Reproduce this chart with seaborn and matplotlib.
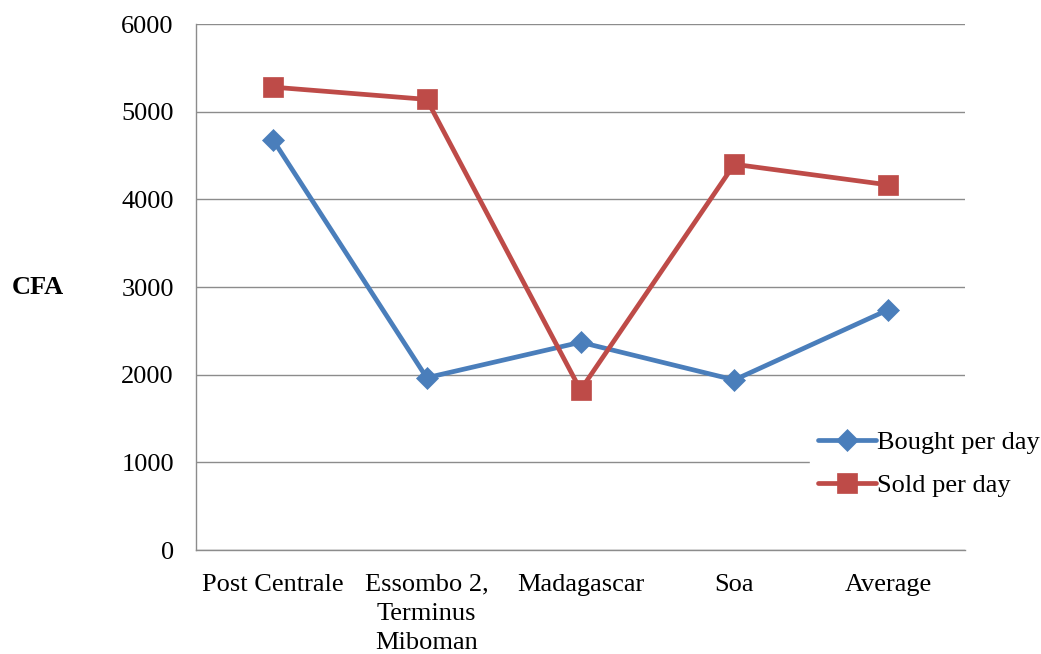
import matplotlib
matplotlib.use("Agg")
import matplotlib.pyplot as plt
import seaborn as sns
import pandas as pd
import numpy as np

# Daily trade values per market (CFA)
markets = ["Post Centrale", "Essombo 2,\nTerminus\nMiboman", "Madagascar", "Soa", "Average"]
bought_per_day = [4680, 1965, 2370, 1940, 2740]
sold_per_day = [5280, 5140, 1825, 4400, 4165]
series_names = ["Bought per day", "Sold per day"]
y_ticks = [0, 1000, 2000, 3000, 4000, 5000, 6000]

df = pd.DataFrame({
    "market": markets * 2,
    "value": bought_per_day + sold_per_day,
    "series": [series_names[0]] * len(markets) + [series_names[1]] * len(markets),
})

sns.set_style("white")
plt.rcParams["font.family"] = ["Liberation Serif", "DejaVu Serif"]
plt.rcParams["text.color"] = "black"
plt.rcParams["xtick.labelcolor"] = "black"
plt.rcParams["ytick.labelcolor"] = "black"

fig = plt.figure(figsize=(10.41, 6.54), dpi=100)
ax = fig.add_axes([0.1883, 0.159, 0.7387, 0.8043])

palette = {series_names[0]: "#4A7EBB", series_names[1]: "#BE4B48"}
markers = {series_names[0]: "D", series_names[1]: "s"}
sizes = {series_names[0]: 11, series_names[1]: 14}

for name in series_names:
    sub = df[df["series"] == name]
    sns.lineplot(data=sub, x="market", y="value", ax=ax, color=palette[name],
                 marker=markers[name], markersize=sizes[name], linewidth=3.4,
                 markeredgecolor=palette[name], markeredgewidth=0.5,
                 label=name, sort=False, legend=False)

ax.set_ylim(0, 6000)
ax.set_xlim(-0.5, len(markets) - 0.5)
ax.set_yticks(y_ticks)
ax.set_yticklabels([str(t) for t in y_ticks], fontsize=19, color="black")
ax.yaxis.grid(True, color="#8C8C8C", linewidth=1.0)
ax.set_axisbelow(True)

ax.set_xticks(range(len(markets)))
ax.set_xticklabels(markets, fontsize=19, linespacing=1.42, color="black")
ax.set_xticks(np.arange(-0.5, len(markets)), minor=True)
ax.tick_params(axis="x", which="major", length=0, pad=17)
ax.tick_params(axis="x", which="minor", length=7, color="#8C8C8C", width=1, direction="out")
ax.tick_params(axis="y", length=8, color="#8C8C8C", width=1, direction="out", pad=8)

for side in ["top", "right"]:
    ax.spines[side].set_visible(False)
for side in ["left", "bottom"]:
    ax.spines[side].set_color("#8C8C8C")
    ax.spines[side].set_linewidth(1.0)

ax.set_xlabel("")
ax.set_ylabel("")
fig.text(12 / 1041, 1 - 287 / 654, "CFA", fontsize=19, fontweight="bold",
         va="center", ha="left", color="black")

handles, labels = ax.get_legend_handles_labels()
leg = fig.legend(handles, labels, loc="center left", bbox_to_anchor=(810 / 1041, 1 - 464 / 654),
                 frameon=True, fontsize=19, handlelength=2.2, handletextpad=0.05,
                 labelspacing=0.75, borderpad=0.3, borderaxespad=0, labelcolor="black")
leg.get_frame().set_facecolor("white")
leg.get_frame().set_edgecolor("white")
leg.get_frame().set_alpha(1)

fig.savefig("out.png", dpi=100)
